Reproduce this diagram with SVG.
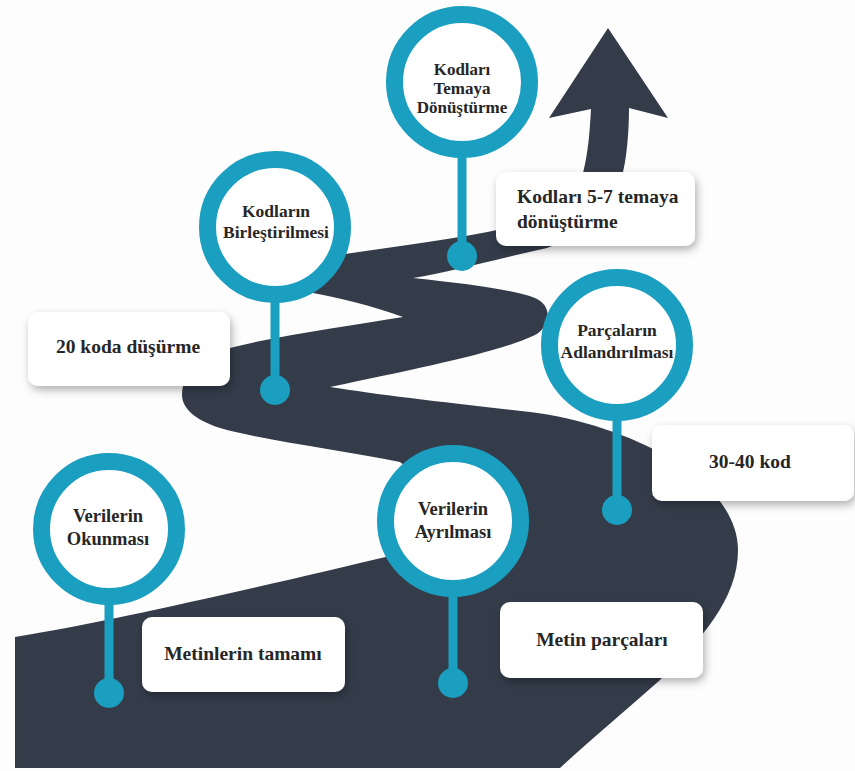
<svg xmlns="http://www.w3.org/2000/svg" width="855" height="771" viewBox="0 0 855 771">
<defs>
<filter id="sh" x="-20%" y="-30%" width="150%" height="170%">
<feDropShadow dx="2" dy="4" stdDeviation="4" flood-color="#000" flood-opacity="0.3"/>
</filter>
</defs>
<style>
.ring{fill:#fff;stroke:#1b9fc0;stroke-width:17}
.stem{stroke:#1b9fc0;stroke-width:9}
.dot{fill:#1b9fc0}
.box{fill:#fff;filter:url(#sh)}
.t{font-family:'Liberation Serif','Times New Roman',serif;font-weight:bold;fill:#262626;text-anchor:middle}
.c{font-size:18.5px}
.c2{font-size:17.5px}
.c3{font-size:17px}
.b{font-size:19.5px}
.road{fill:#343c4a}
</style>
<rect width="855" height="771" fill="#fdfdfd"/>
<g id="road">
<path class="road" d="M15,768 L15,637 C110,622 280,582 390,556 L455,505 L400,462 C340,450 262,440 220,428 C195,420 182,408 182,395 C182,375 200,356 230,348 C280,335 350,326 403,317 C370,305 340,298 313,293 C285,285 290,255 345,254 C400,246 460,238 497,230 C540,222 575,200 583,173 C589,150 590,125 591,109 L549,118 L608,28 L668,118 L629,108 C629,130 627,160 621,180 C605,220 570,240 547,248 C500,258 450,272 413,278 C470,284 515,290 535,298 C552,305 552,325 535,335 C500,352 420,368 330,387 C380,395 450,403 530,412 C580,418 630,435 670,458 C710,482 738,515 738,550 C738,600 700,640 660,680 C620,715 585,745 560,768 Z"/>
</g>
<g id="connectors">
<line class="stem" x1="109" y1="590" x2="109" y2="693"/><circle class="dot" cx="109" cy="693" r="15"/>
<line class="stem" x1="453" y1="585" x2="453" y2="683"/><circle class="dot" cx="453" cy="683" r="15"/>
<line class="stem" x1="275" y1="290" x2="275" y2="390"/><circle class="dot" cx="275" cy="390" r="15"/>
<line class="stem" x1="462" y1="145" x2="462" y2="256"/><circle class="dot" cx="462" cy="256" r="15"/>
<line class="stem" x1="617" y1="408" x2="617" y2="510"/><circle class="dot" cx="617" cy="510" r="15"/>
</g>
<g id="n-verilerin-okunmasi">
<circle class="ring" cx="109" cy="529" r="67.5"/>
<text class="t c" x="108" y="522">Verilerin</text>
<text class="t c" x="108" y="545">Okunması</text>
</g>
<g id="n-verilerin-ayrilmasi">
<circle class="ring" cx="453" cy="521" r="67.5"/>
<text class="t c" x="453" y="515">Verilerin</text>
<text class="t c" x="453" y="538">Ayrılması</text>
</g>
<g id="n-kodlarin-birlestirilmesi">
<circle class="ring" cx="275" cy="227" r="67.5"/>
<text class="t c2" x="276" y="217">Kodların</text>
<text class="t c2" x="276" y="238">Birleştirilmesi</text>
</g>
<g id="n-kodlari-temaya">
<circle class="ring" cx="462" cy="82" r="67.5"/>
<text class="t c3" x="462" y="75">Kodları</text>
<text class="t c3" x="462" y="94">Temaya</text>
<text class="t c3" x="462" y="113">Dönüştürme</text>
</g>
<g id="n-parcalarin-adlandirilmasi">
<circle class="ring" cx="617" cy="345" r="67.5"/>
<text class="t c2" x="617" y="336">Parçaların</text>
<text class="t c2" x="617" y="358">Adlandırılması</text>
</g>
<g id="b-metinlerin-tamami">
<rect class="box" x="142" y="617" width="203" height="75" rx="10"/>
<text class="t b" x="243" y="660">Metinlerin tamamı</text>
</g>
<g id="b-metin-parcalari">
<rect class="box" x="500" y="602" width="203" height="76" rx="10"/>
<text class="t b" x="602" y="646">Metin parçaları</text>
</g>
<g id="b-30-40-kod">
<rect class="box" x="652" y="425" width="202" height="76" rx="10"/>
<text class="t b" x="750" y="468">30-40 kod</text>
</g>
<g id="b-20-koda">
<rect class="box" x="28" y="312" width="202" height="74" rx="10"/>
<text class="t b" x="128" y="353">20 koda düşürme</text>
</g>
<g id="b-kodlari-5-7">
<rect class="box" x="496" y="172" width="199" height="74" rx="10"/>
<text class="t b" x="517" y="203" style="text-anchor:start">Kodları 5-7 temaya</text>
<text class="t b" x="517" y="228" style="text-anchor:start">dönüştürme</text>
</g>
</svg>
